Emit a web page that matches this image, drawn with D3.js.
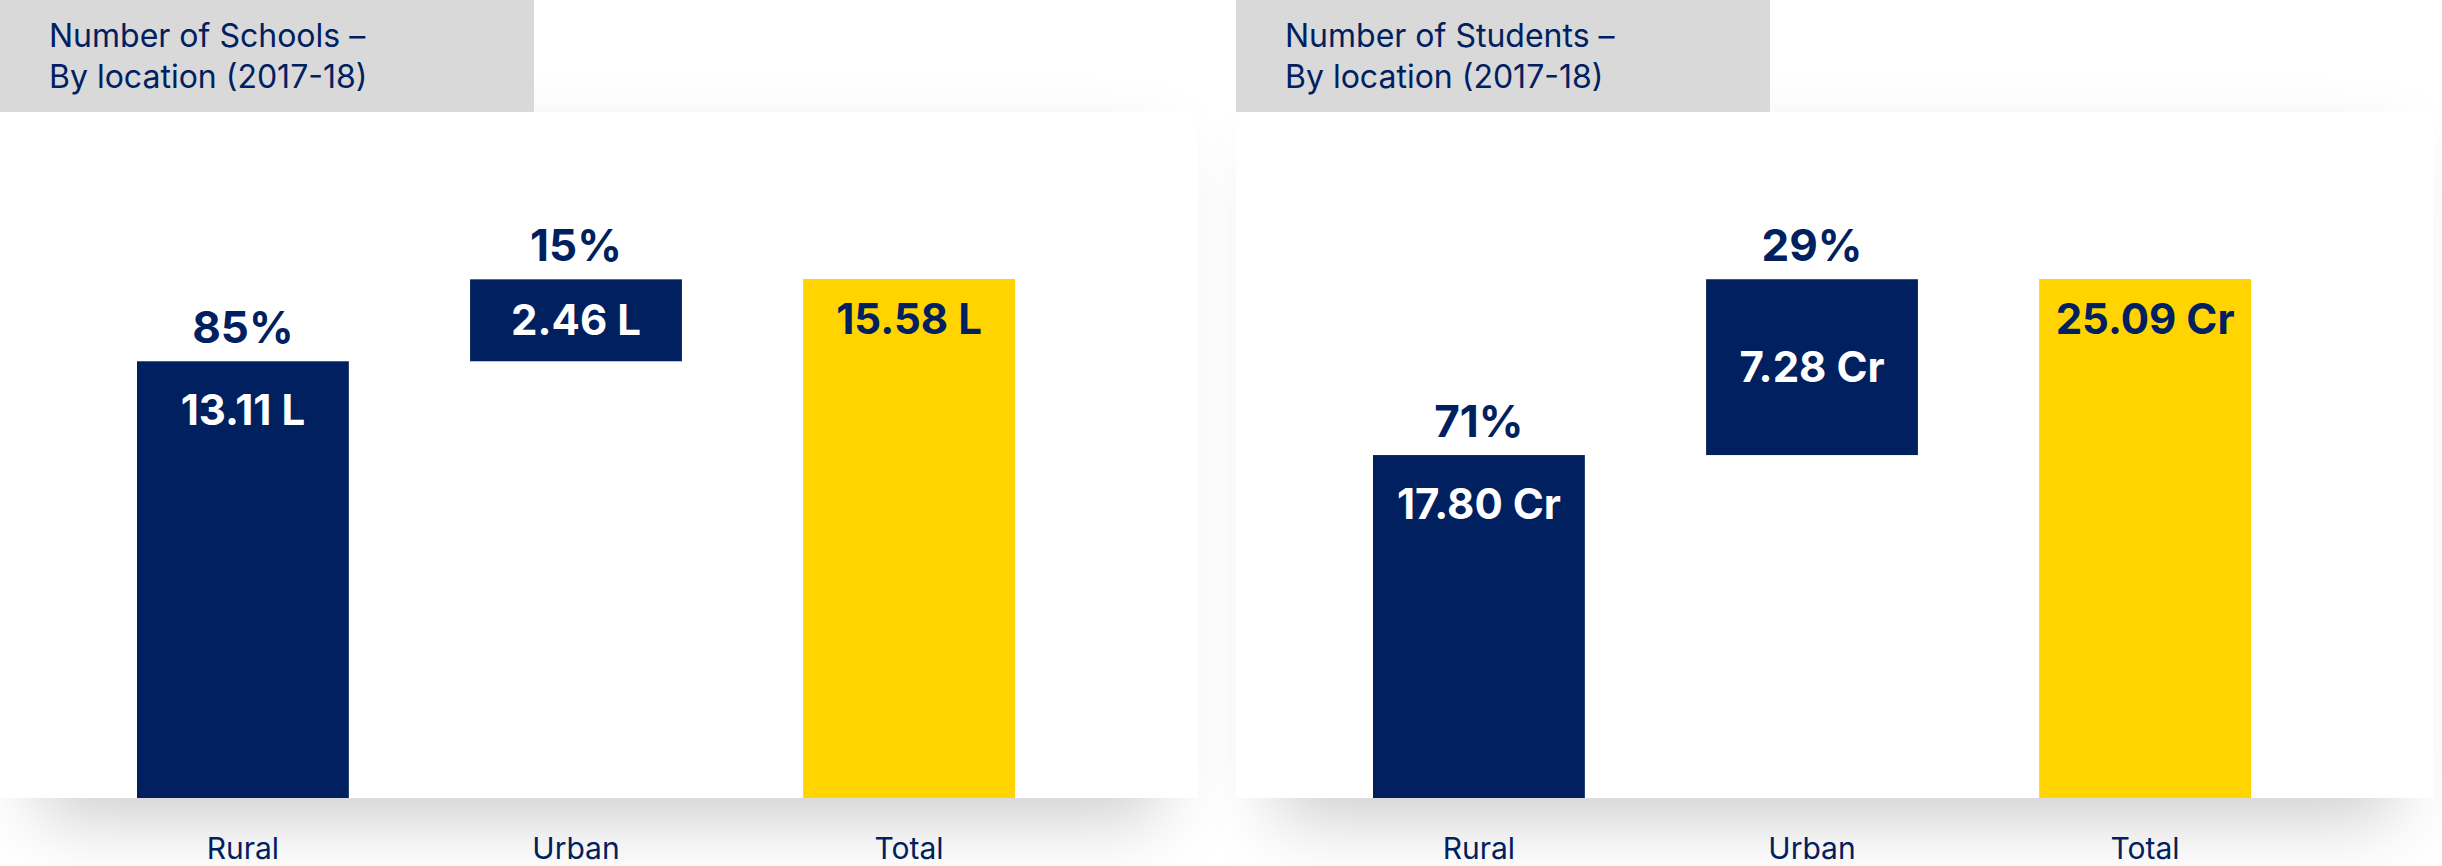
<!DOCTYPE html>
<html>
<head>
<meta charset="utf-8">
<script src="https://cdn.jsdelivr.net/npm/d3@7"></script>
<style>
  html, body { margin: 0; padding: 0; background: #fff; }
  #chart { width: 2442px; height: 866px; }
  text { font-family: Inter, "Noto Sans", sans-serif; }
</style>
</head>
<body>
<div id="chart"></div>
<script>
// data
var categories = ["Rural", "Urban", "Total"];

var schoolTitle = ["Number of Schools \u2013", "By location (2017-18)"];
var schoolValues = [13.11, 2.46, 15.58];   // lakh
var schoolShares = [85, 15];               // % of total

var studentTitle = ["Number of Students \u2013", "By location (2017-18)"];
var studentValues = [17.80, 7.28, 25.09];  // crore
var studentShares = [71, 29];

var navy = "#002060";
var yellow = "#FFD400";
var fullWidth = 2442;
var fullHeight = 866;

var svg = d3.select("#chart")
  .append("svg")
  .attr("width", fullWidth)
  .attr("height", fullHeight);

// soft shadow under each card
var filter = svg.append("defs").append("filter")
  .attr("id", "cardShadow")
  .attr("x", "-10%").attr("y", "-10%")
  .attr("width", "120%").attr("height", "135%");
filter.append("feMorphology").attr("in", "SourceAlpha")
  .attr("operator", "erode").attr("radius", "40 10").attr("result", "er");
filter.append("feOffset").attr("in", "er").attr("dy", 30).attr("result", "off");
filter.append("feGaussianBlur").attr("in", "off").attr("stdDeviation", 35).attr("result", "blur");
filter.append("feFlood").attr("flood-color", "#000").attr("flood-opacity", 0.2);
filter.append("feComposite").attr("in2", "blur").attr("operator", "in").attr("result", "shadow");
var merge = filter.append("feMerge");
merge.append("feMergeNode").attr("in", "shadow");
merge.append("feMergeNode").attr("in", "SourceGraphic");

var panels = [
  { ox: 0,    title: schoolTitle,  values: schoolValues,  shares: schoolShares,  unit: "L",  yMin: 0 },
  // the original does not draw the student bars from zero
  { ox: 1236, title: studentTitle, values: studentValues, shares: studentShares, unit: "Cr", yMin: 3.6 }
];

// cards first so no shadow lands on a neighbour's bars
panels.forEach(function(p) {
  svg.append("rect")
    .attr("x", p.ox).attr("y", 112)
    .attr("width", 1198).attr("height", 686)
    .attr("fill", "#fff")
    .attr("filter", "url(#cardShadow)");
});

panels.forEach(drawPanel);

function drawPanel(p) {
  var g = svg.append("g").attr("transform", "translate(" + p.ox + ",0)");

  // title box
  g.append("rect")
    .attr("x", 0).attr("y", 0)
    .attr("width", 534).attr("height", 112)
    .attr("fill", "#D9D9D9");
  g.append("text")
    .attr("fill", navy)
    .attr("font-size", 32)
    .selectAll("tspan")
    .data(p.title)
    .join("tspan")
    .attr("x", 49)
    .attr("y", function(d, i) { return 47 + i * 41; })
    .text(function(d) { return d; });

  var x = d3.scaleBand()
    .domain(categories)
    .range([137, 1015])
    .paddingInner(0.364)
    .paddingOuter(0);

  var total = p.values[2];
  var y = d3.scaleLinear()
    .domain([p.yMin, total])
    .range([798, 279])
    .clamp(true);

  // waterfall steps
  var steps = [
    { cat: categories[0], start: 0, end: p.values[0], value: p.values[0], share: p.shares[0], total: false },
    { cat: categories[1], start: p.values[0], end: p.values[0] + p.values[1], value: p.values[1], share: p.shares[1], total: false },
    { cat: categories[2], start: 0, end: total, value: total, share: null, total: true }
  ];

  g.selectAll("rect.bar")
    .data(steps)
    .join("rect")
    .attr("class", "bar")
    .attr("x", function(d) { return x(d.cat); })
    .attr("y", function(d) { return y(d.end); })
    .attr("width", x.bandwidth())
    .attr("height", function(d) { return y(d.start) - y(d.end); })
    .attr("fill", function(d) { return d.total ? yellow : navy; });

  // value inside bar
  g.selectAll("text.val")
    .data(steps)
    .join("text")
    .attr("class", "val")
    .attr("x", function(d) { return x(d.cat) + x.bandwidth() / 2; })
    .attr("y", function(d) {
      var top = y(d.end), bottom = y(d.start);
      if (d.total) return top + 55;
      if (bottom - top < 200) return (top + bottom) / 2 + 15;
      return top + 64;
    })
    .attr("text-anchor", "middle")
    .attr("font-size", 42)
    .attr("font-weight", 700)
    .attr("fill", function(d) { return d.total ? navy : "#fff"; })
    .text(function(d) { return d.value.toFixed(2) + " " + p.unit; });

  // share above bar
  g.selectAll("text.pct")
    .data(steps.filter(function(d) { return d.share != null; }))
    .join("text")
    .attr("class", "pct")
    .attr("x", function(d) { return x(d.cat) + x.bandwidth() / 2; })
    .attr("y", function(d) { return y(d.end) - 18; })
    .attr("text-anchor", "middle")
    .attr("font-size", 44)
    .attr("font-weight", 700)
    .attr("fill", navy)
    .text(function(d) { return d.share + "%"; });

  // category labels
  g.selectAll("text.cat")
    .data(categories)
    .join("text")
    .attr("class", "cat")
    .attr("x", function(d) { return x(d) + x.bandwidth() / 2; })
    .attr("y", 859)
    .attr("text-anchor", "middle")
    .attr("font-size", 30)
    .attr("fill", navy)
    .text(function(d) { return d; });
}
</script>
</body>
</html>
